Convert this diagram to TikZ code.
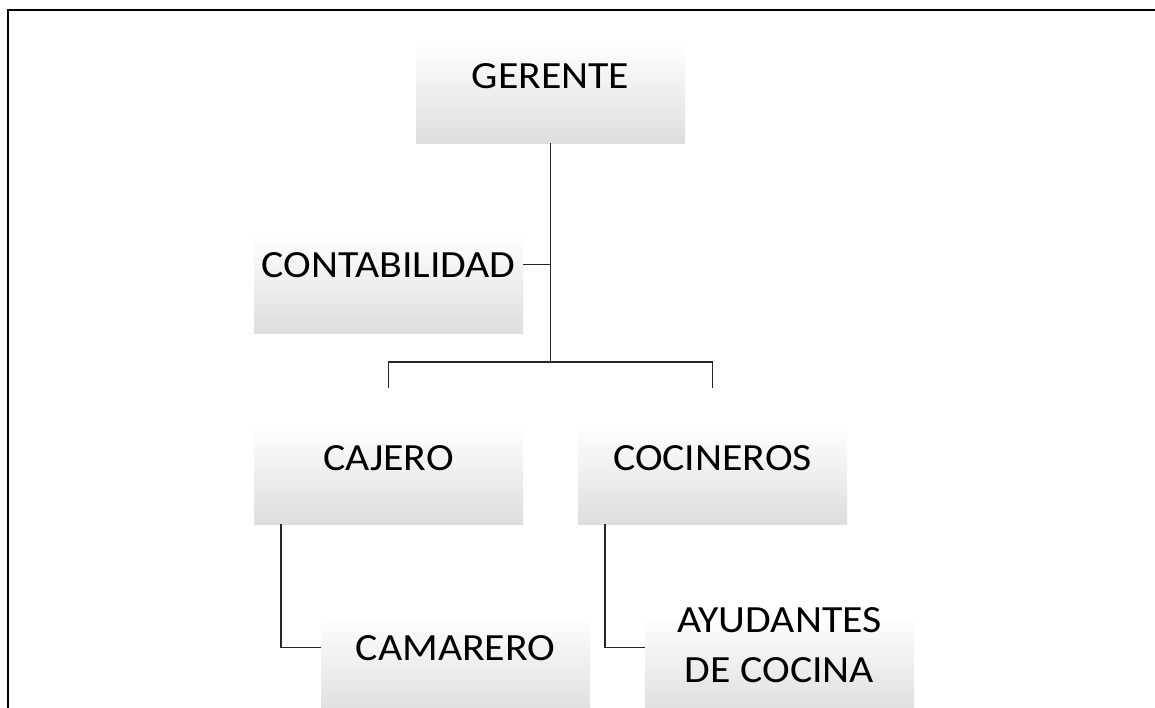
\documentclass[tikz,border=0pt]{standalone}
\usepackage{fontspec}
\setmainfont{Carlito}
\usepackage{graphicx}
\newcommand{\ancho}[1]{\scalebox{1.085}[1]{#1}}
\tikzset{
  caja/.style={minimum width=269pt, minimum height=100pt, inner sep=0pt,
    top color=white, middle color=white, bottom color=black!13},
  rotulo/.style={font=\fontsize{38.5}{50}\selectfont, inner sep=0pt},
  linea/.style={line width=1.1pt, black!85}
}
\begin{document}
\begin{tikzpicture}[x=1pt,y=-1pt]
    \useasboundingbox (0,0) rectangle (1155,707);
    \clip (0,0) rectangle (1155,707);
    \fill[white] (0,0) rectangle (1155,707);
    % marco
    \draw[line width=2.5pt] (8,720) -- (8,10) -- (1160,10);
    % cajas
    \node[caja] (gerente) at (550.5,93) {};
    \node[caja] (contab) at (388.5,283) {};
    \node[caja] (cajero) at (388.5,474) {};
    \node[caja] (cocineros) at (712.5,474) {};
    \node[caja] (camarero) at (455.5,665) {};
    \node[caja] (ayudantes) at (779.5,665) {};
    % textos
    \node[rotulo, anchor=base] (tGerente) at (550.5,88) {\ancho{GERENTE}};
    \node[rotulo, anchor=base] (tContab) at (388.5,277) {\ancho{CONTABILIDAD}};
    \node[rotulo, anchor=base] (tCajero) at (388.5,470) {\ancho{CAJERO}};
    \node[rotulo, anchor=base] (tCocineros) at (712.5,470) {\ancho{COCINEROS}};
    \node[rotulo, anchor=base] (tCamarero) at (455.5,660) {\ancho{CAMARERO}};
    \node[rotulo] (tAyudantes) at (779.5,647)
        {\ancho{\begin{tabular}{@{}c@{}}AYUDANTES\\DE COCINA\end{tabular}}};
    % lineas
    \coordinate (nudo) at (550.5,362);
    \coordinate (bajaIzq) at (388.5,388);
    \coordinate (bajaDer) at (712.5,388);
    \coordinate (codoCaj) at (281,524);
    \coordinate (codoCoc) at (605,524);
    \draw[linea] (gerente.south) -- (nudo);
    \draw[linea] (contab.east |- tContab) -- (nudo |- tContab);
    \draw[linea] (bajaIzq) -- (bajaIzq |- nudo) -- (bajaDer |- nudo) -- (bajaDer);
    \draw[linea] (codoCaj) -- (codoCaj |- tCamarero) -- (camarero.west |- tCamarero);
    \draw[linea] (codoCoc) -- (codoCoc |- tCamarero) -- (ayudantes.west |- tCamarero);
\end{tikzpicture}
\end{document}
